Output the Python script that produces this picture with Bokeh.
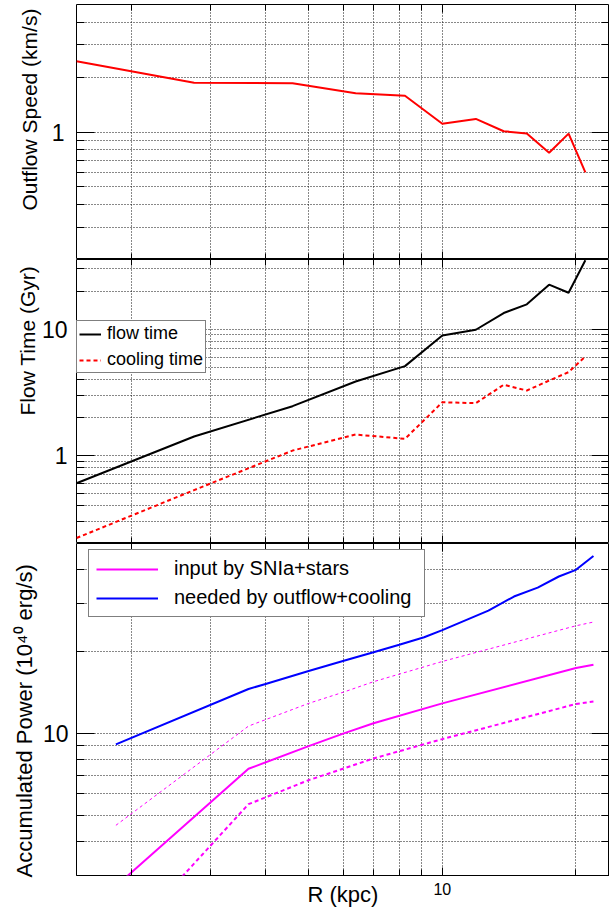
import math
from bokeh.plotting import figure
from bokeh.layouts import column
from bokeh.models import (Range1d, FixedTicker, LogAxis, Legend, LegendItem,
                          Title, NumeralTickFormatter)
from bokeh.embed import file_html
from bokeh.resources import INLINE

# ---------------- data ----------------
X_RANGE = (1.5, 23.8)
x_major_ticks = [10]
x_minor_ticks = [2, 3, 4, 5, 6, 7, 8, 9, 20]

# panels 1 & 2
R_outer = [1.5, 2.76, 4.6, 6.38, 8.24, 10.0, 11.9, 13.75, 15.5, 17.4, 19.25, 21.0]
outflow_speed = [2.44, 1.86, 1.85, 1.63, 1.58, 1.11, 1.18, 1.01, 0.98, 0.77, 0.98, 0.60]
flow_time = [0.60, 1.41, 2.45, 3.84, 5.09, 8.9, 9.88, 13.4, 15.7, 22.5, 19.4, 35.1]
cooling_time = [0.221, 0.53, 1.09, 1.46, 1.35, 2.63, 2.59, 3.62, 3.26, 3.91, 4.56, 6.07]

# panel 3
R_needed = [1.84, 3.66, 4.0, 5.0, 6.0, 7.0, 8.0, 9.1, 10.0, 12.7, 14.5, 16.4, 18.3, 20.0, 21.9]
power_needed = [9.11, 14.57, 15.2, 16.97, 18.5, 19.9, 21.2, 22.6, 24.0, 28.3, 31.9, 34.4, 37.8, 40.0, 45.0]
R_input = [1.84, 3.66, 5.0, 6.0, 7.0, 10.0, 20.0, 21.9]
power_input = [2.74, 7.41, 8.98, 10.0, 10.9, 12.9, 17.4, 17.9]
power_input_high = [4.59, 10.64, 12.9, 14.2, 15.5, 18.4, 24.9, 25.7]
power_input_low = [1.61, 5.49, 6.73, 7.43, 8.09, 9.53, 12.83, 13.1]

Y1_RANGE = (0.2, 5.0)
y1_major = [1]
y1_minor = [0.3, 0.4, 0.5, 0.6, 0.7, 0.8, 0.9, 2, 3, 4]
Y2_RANGE = (0.2, 35.6)
y2_major = [1, 10]
y2_minor = [0.2, 0.3, 0.4, 0.5, 0.6, 0.7, 0.8, 0.9, 2, 3, 4, 5, 6, 7, 8, 9, 20, 30]
Y3_RANGE = (3.0, 50.0)
y3_major = [10]
y3_minor = [3, 4, 5, 6, 7, 8, 9, 20, 30, 40]

# ---------------- layout ----------------
FONT = "Liberation Sans"
MIN_LEFT = 76
FRAME_W = 533
H1, H2, H3 = 255, 284, 332
GRID_COLOR = "#111111"
GRID_DASH = "1 2"


def style_hidden(ax):
    ax.major_label_text_color = None
    ax.major_label_standoff = 0
    ax.axis_line_color = None


def make_panel(yr, ymaj, ymin, frame_h, top_border, tick_standoff):
    p = figure(x_axis_type="log", y_axis_type="log",
               x_range=Range1d(*X_RANGE), y_range=Range1d(*yr),
               frame_width=FRAME_W, frame_height=frame_h,
               min_border_left=MIN_LEFT, min_border_right=0,
               min_border_top=top_border, min_border_bottom=0,
               output_backend="svg", toolbar_location=None,
               background_fill_color="white", border_fill_color="white",
               outline_line_color="black", outline_line_width=1)
    bottom_ax = p.below[0]
    left_ax = p.left[0]
    xt = FixedTicker(ticks=x_major_ticks, minor_ticks=x_minor_ticks)
    yt = FixedTicker(ticks=ymaj, minor_ticks=ymin)

    top_ax = LogAxis()
    right_ax = LogAxis()
    p.add_layout(top_ax, "above")
    p.add_layout(right_ax, "right")

    for ax in (bottom_ax, top_ax):
        ax.ticker = xt
        ax.major_tick_in = 8
        ax.minor_tick_in = 6
    for ax in (left_ax, right_ax):
        ax.ticker = yt
        ax.major_tick_in = 18
        ax.minor_tick_in = 8
    for ax in (bottom_ax, top_ax, left_ax, right_ax):
        ax.major_tick_out = 0
        ax.minor_tick_out = 0
        ax.major_tick_line_color = "black"
        ax.minor_tick_line_color = "black"
        ax.formatter = NumeralTickFormatter(format="0.[0]")

    style_hidden(top_ax)
    style_hidden(right_ax)
    style_hidden(bottom_ax)

    left_ax.major_label_text_font = FONT
    left_ax.major_label_text_font_size = "23px"
    left_ax.major_label_text_color = "black"
    left_ax.major_label_standoff = tick_standoff
    left_ax.axis_line_color = None

    for g, t in ((p.xgrid[0], xt), (p.ygrid[0], yt)):
        g.ticker = t
        g.grid_line_color = GRID_COLOR
        g.grid_line_dash = GRID_DASH
        g.grid_line_width = 1
        g.minor_grid_line_color = GRID_COLOR
        g.minor_grid_line_dash = GRID_DASH
        g.minor_grid_line_width = 1
    return p, bottom_ax


def side_title(p, text, offset, standoff, size):
    p.add_layout(Title(text=text, align="left", vertical_align="bottom",
                       offset=offset, standoff=standoff,
                       text_font=FONT, text_font_size=size,
                       text_font_style="normal", text_color="black"), "left")


# ---------------- panel 1: outflow speed ----------------
p1, _ = make_panel(Y1_RANGE, y1_major, y1_minor, H1, 4, 12)
p1.line(R_outer, outflow_speed, line_color="#ff0000", line_width=2)
side_title(p1, "Outflow Speed (km/s)", 49, 16, "21px")

# ---------------- panel 2: flow / cooling time ----------------
p2, _ = make_panel(Y2_RANGE, y2_major, y2_minor, H2, 0, 9)
r_flow = p2.line(R_outer, flow_time, line_color="black", line_width=2)
r_cool = p2.line(R_outer, cooling_time, line_color="#ff0000", line_width=2,
                 line_dash="4 3")
leg2 = Legend(items=[LegendItem(label="flow time", renderers=[r_flow]),
                     LegendItem(label="cooling time", renderers=[r_cool])],
              location=(0, 170), margin=0, padding=2, spacing=5,
              label_height=20, glyph_height=20, glyph_width=22,
              label_standoff=6, label_text_font=FONT,
              label_text_font_size="18px", label_text_color="black",
              border_line_color="black", border_line_width=1,
              background_fill_color="white", background_fill_alpha=1)
p2.add_layout(leg2)
side_title(p2, "Flow Time (Gyr)", 128, 0, "21px")

# ---------------- panel 3: accumulated power ----------------
p3, bx3 = make_panel(Y3_RANGE, y3_major, y3_minor, H3, 0, 8)
r_in = p3.line(R_input, power_input, line_color="#ff00ff", line_width=2)
p3.line(R_input, power_input_high, line_color="#ff00ff", line_width=1,
        line_dash="3 3")
p3.line(R_input, power_input_low, line_color="#ff00ff", line_width=2,
        line_dash="4 3")
r_need = p3.line(R_needed, power_needed, line_color="#0000ff", line_width=2)
leg3 = Legend(items=[LegendItem(label="input by SNIa+stars", renderers=[r_in]),
                     LegendItem(label="needed by outflow+cooling", renderers=[r_need])],
              location=(12, 258), margin=0, padding=7, spacing=6,
              label_height=20, glyph_height=20, glyph_width=62,
              label_standoff=16, label_width=243, label_text_font=FONT,
              label_text_font_size="20px", label_text_color="black",
              border_line_color="black", border_line_width=1,
              background_fill_color="white", background_fill_alpha=1)
p3.add_layout(leg3)
side_title(p3, "Accumulated Power (10\u2074\u2070 erg/s)", -2, 5, "22px")

bx3.major_label_text_color = "black"
bx3.major_label_text_font = FONT
bx3.major_label_text_font_size = "16px"
bx3.major_label_standoff = 7
bx3.axis_label = "R (kpc)"
bx3.axis_label_text_font = FONT
bx3.axis_label_text_font_size = "22px"
bx3.axis_label_text_font_style = "normal"
bx3.axis_label_text_color = "black"
bx3.axis_label_standoff = -16

layout = column(p1, p2, p3, spacing=0)
open("out.html", "w").write(file_html(layout, INLINE))
